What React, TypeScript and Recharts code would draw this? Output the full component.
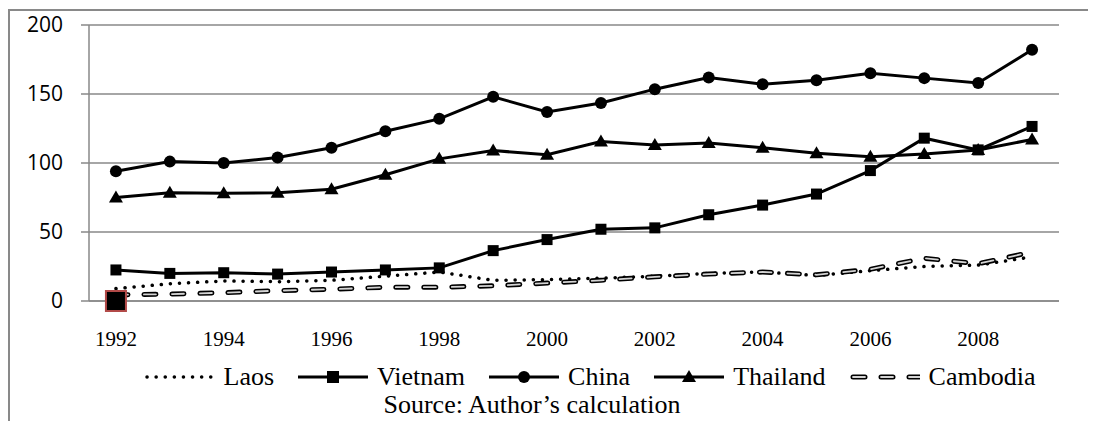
import React from "react";
import {
  LineChart,
  Line,
  XAxis,
  YAxis,
  CartesianGrid,
  Legend,
  ReferenceDot,
} from "recharts";

const YEARS = [
  1992, 1993, 1994, 1995, 1996, 1997, 1998, 1999, 2000, 2001, 2002, 2003,
  2004, 2005, 2006, 2007, 2008, 2009,
];
const LAOS = [9, 12.5, 14.5, 14, 15, 18, 21, 15, 15.5, 16.5, 18, 20, 21, 18.5, 22, 25, 26, 32];
const VIETNAM = [22.5, 20, 20.5, 19.5, 21, 22.5, 24, 36.5, 44.5, 52, 53, 62.5, 69.5, 77.5, 94.5, 118, 109.5, 126.5];
const CHINA = [94, 101, 100, 104, 111, 123, 132, 148, 137, 143.5, 153.5, 162, 157, 160, 165, 161.5, 158, 182];
const THAILAND = [75, 78.5, 78, 78.5, 81, 91.5, 103, 109, 106, 115.5, 113, 114.5, 111, 107, 104.5, 106.5, 109.5, 117];
const CAMBODIA = [4.5, 5, 6, 7.5, 8.5, 10, 10, 11, 13, 15, 17.5, 19.5, 21, 19, 23, 31, 27, 35.5];

const X_LABELS = [1992, 1994, 1996, 1998, 2000, 2002, 2004, 2006, 2008];
const X_EDGES = [...YEARS.map((y) => y - 0.5), 2009.5];
const Y_TICKS = [0, 50, 100, 150, 200];

const data = YEARS.map((year, i) => ({
  year,
  laos: LAOS[i],
  vietnam: VIETNAM[i],
  china: CHINA[i],
  thailand: THAILAND[i],
  cambodia: CAMBODIA[i],
}));

const GRAY = "#898989";
const SERIF = "Liberation Serif";
const DOTTED = "0.1 9";
const DASHED = "12 16";

const Square = ({ cx, cy, size = 11 }: any) =>
  cx == null ? null : (
    <rect x={cx - size / 2} y={cy - size / 2} width={size} height={size} fill="#000" />
  );

const Triangle = ({ cx, cy }: any) =>
  cx == null ? null : (
    <polygon points={`${cx},${cy - 7} ${cx + 7},${cy + 5} ${cx - 7},${cy + 5}`} fill="#000" />
  );

const Circle = ({ cx, cy }: any) =>
  cx == null ? null : <circle cx={cx} cy={cy} r={6} fill="#000" />;

const Sample = ({ kind }: { kind: string }) => (
  <svg width={70} height={20} style={{ display: "block" }}>
    {kind === "laos" && (
      <line x1={2} y1={10} x2={68} y2={10} stroke="#000" strokeWidth={3.5} strokeDasharray={DOTTED} strokeLinecap="round" />
    )}
    {kind === "cambodia" && (
      <g>
        <line x1={3} y1={10} x2={70} y2={10} stroke="#000" strokeWidth={5} strokeDasharray={DASHED} strokeLinecap="round" />
        <line x1={3} y1={10} x2={70} y2={10} stroke="#d4d4d4" strokeWidth={1.8} strokeDasharray={DASHED} strokeLinecap="round" />
      </g>
    )}
    {kind !== "laos" && kind !== "cambodia" && (
      <line x1={0} y1={10} x2={70} y2={10} stroke="#000" strokeWidth={3} />
    )}
    {kind === "vietnam" && <Square cx={35} cy={10} size={12} />}
    {kind === "china" && <Circle cx={35} cy={10} />}
    {kind === "thailand" && <Triangle cx={35} cy={10} />}
  </svg>
);

const ITEMS = [
  { key: "laos", name: "Laos" },
  { key: "vietnam", name: "Vietnam" },
  { key: "china", name: "China" },
  { key: "thailand", name: "Thailand" },
  { key: "cambodia", name: "Cambodia" },
];

const textStyle = { fontFamily: SERIF, fontSize: 26, color: "#000", lineHeight: "28px" };

const LegendBox = () => (
  <div style={{ paddingTop: 12 }}>
    <div style={{ display: "flex", justifyContent: "center", alignItems: "center", height: 28, paddingLeft: 100 }}>
      {ITEMS.map((it) => (
        <div key={it.key} style={{ display: "flex", alignItems: "center", marginRight: 24 }}>
          <Sample kind={it.key} />
          <span style={{ ...textStyle, marginLeft: 9 }}>{it.name}</span>
        </div>
      ))}
    </div>
    <div style={{ ...textStyle, textAlign: "center", paddingRight: 40 }}>
      Source: Author’s calculation
    </div>
  </div>
);

const SelectedPoint = ({ cx, cy }: any) => (
  <rect x={cx - 10} y={cy - 10} width={20} height={20} fill="#000" stroke="#b24a48" strokeWidth={2} />
);

export default function App() {
  return (
    <div style={{ position: "relative", width: 1088, height: 413 }}>
      <div
        style={{
          position: "absolute",
          left: 0,
          top: 1,
          width: 1100,
          height: 420,
          borderTop: `2px solid ${GRAY}`,
          borderLeft: `2px solid ${GRAY}`,
          boxSizing: "border-box",
        }}
      />
      <LineChart
        width={1088}
        height={413}
        data={data}
        margin={{ top: 17, right: 37, left: 0, bottom: 0 }}
      >
        <CartesianGrid vertical={false} stroke={GRAY} strokeWidth={1.5} />
        <XAxis
          xAxisId="edges"
          dataKey="year"
          type="number"
          domain={[1991.5, 2009.5]}
          ticks={X_EDGES}
          height={0}
          axisLine={false}
          tickSize={7}
          tickLine={{ stroke: GRAY, strokeWidth: 1.5 }}
          tickFormatter={() => ""}
        />
        <XAxis
          dataKey="year"
          type="number"
          domain={[1991.5, 2009.5]}
          ticks={X_LABELS}
          height={50}
          tickLine={false}
          axisLine={{ stroke: GRAY, strokeWidth: 1.5 }}
          tickMargin={24}
          tick={{ fill: "#000", fontSize: 21, fontFamily: SERIF }}
        />
        <YAxis
          domain={[0, 200]}
          ticks={Y_TICKS}
          width={81}
          tickSize={8}
          tickMargin={18}
          axisLine={{ stroke: GRAY, strokeWidth: 1.5 }}
          tickLine={{ stroke: GRAY, strokeWidth: 1.5 }}
          tick={{ fill: "#000", fontSize: 21, fontFamily: "Open Sans" }}
        />
        <Legend verticalAlign="bottom" height={70} wrapperStyle={{ left: 0, width: 1088 }} content={<LegendBox />} />
        <Line
          dataKey="laos"
          name="Laos"
          stroke="#000"
          strokeWidth={3.5}
          strokeDasharray={DOTTED}
          strokeLinecap="round"
          dot={false}
          isAnimationActive={false}
        />
        <Line
          dataKey="vietnam"
          name="Vietnam"
          stroke="#000"
          strokeWidth={3}
          dot={(p: any) => <Square key={`v${p.index}`} cx={p.cx} cy={p.cy} />}
          isAnimationActive={false}
        />
        <Line
          dataKey="china"
          name="China"
          stroke="#000"
          strokeWidth={3}
          dot={(p: any) => <Circle key={`c${p.index}`} cx={p.cx} cy={p.cy} />}
          isAnimationActive={false}
        />
        <Line
          dataKey="thailand"
          name="Thailand"
          stroke="#000"
          strokeWidth={3}
          dot={(p: any) => <Triangle key={`t${p.index}`} cx={p.cx} cy={p.cy} />}
          isAnimationActive={false}
        />
        <Line
          dataKey="cambodia"
          name="Cambodia"
          stroke="#000"
          strokeWidth={5}
          strokeDasharray={DASHED}
          strokeLinecap="round"
          dot={false}
          isAnimationActive={false}
        />
        <Line
          dataKey="cambodia"
          legendType="none"
          stroke="#d4d4d4"
          strokeWidth={1.8}
          strokeDasharray={DASHED}
          strokeLinecap="round"
          dot={false}
          isAnimationActive={false}
        />
        <ReferenceDot x={YEARS[0]} y={0} shape={<SelectedPoint />} />
      </LineChart>
    </div>
  );
}
